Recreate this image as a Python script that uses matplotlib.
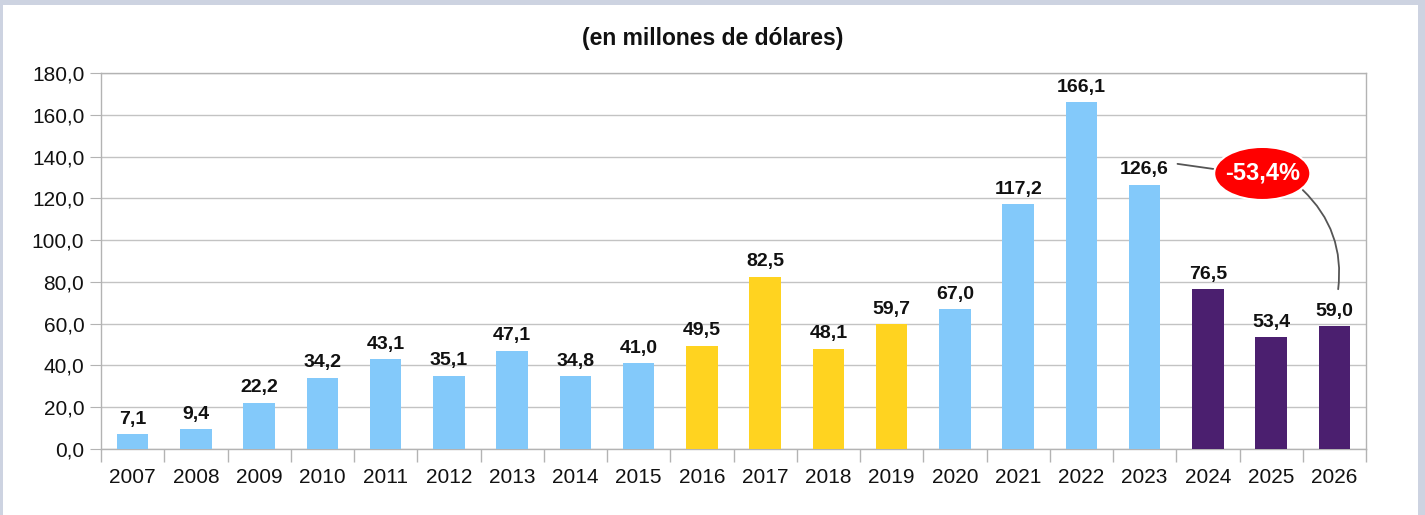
import numpy as np
import matplotlib
matplotlib.use('Agg')
import matplotlib.pyplot as plt
import matplotlib.ticker as mtick
from matplotlib.patches import Rectangle, Ellipse

plt.rcParams['font.family'] = ['Liberation Sans', 'DejaVu Sans']

years = ['2007', '2008', '2009', '2010', '2011', '2012', '2013', '2014', '2015', '2016',
         '2017', '2018', '2019', '2020', '2021', '2022', '2023', '2024', '2025', '2026']
values = [7.1, 9.4, 22.2, 34.2, 43.1, 35.1, 47.1, 34.8, 41.0, 49.5,
          82.5, 48.1, 59.7, 67.0, 117.2, 166.1, 126.6, 76.5, 53.4, 59.0]
groups = ['a'] * 9 + ['b'] * 4 + ['a'] * 4 + ['c'] * 3
group_colors = {'a': '#83C9FA', 'b': '#FFD320', 'c': '#4B1F6F'}
change_label = '-53,4%'

fig = plt.figure(figsize=(14.25, 5.15), dpi=100)
fig.patch.set_facecolor('#CDD3E1')
fig.add_artist(Rectangle((3 / 1425, 0), 1415 / 1425, 510 / 515,
                         transform=fig.transFigure, facecolor='white',
                         edgecolor='none', zorder=-10))

ax = fig.add_axes([101 / 1425, 1 - 449 / 515, 1265 / 1425, 376 / 515])
ax.set_zorder(1)
ax.set_facecolor('white')

x = np.arange(len(years))
colors = [group_colors[g] for g in groups]
ax.bar(x, values, width=0.5, color=colors, zorder=3)

for xi, v in zip(x, values):
    ax.annotate(f'{v:.1f}'.replace('.', ','), (xi, v), xytext=(0, 4.5),
                textcoords='offset points', ha='center', va='bottom',
                fontsize=14, fontweight='bold', color='#111111', zorder=4)

ax.set_xlim(-0.5, len(years) - 0.5)
ax.set_ylim(0, 180)
ax.set_yticks(np.arange(0, 181, 20))
ax.yaxis.set_major_formatter(mtick.FuncFormatter(lambda v, p: f'{v:.1f}'.replace('.', ',')))
ax.set_xticks(x)
ax.set_xticklabels(years)
ax.set_xticks(np.arange(-0.5, len(years), 1), minor=True)
ax.tick_params(axis='x', which='major', length=0, pad=14, labelsize=15, colors='#111111')
ax.tick_params(axis='x', which='minor', length=9, color='#B3B3B3', width=1)
ax.tick_params(axis='y', length=8, color='#B3B3B3', pad=4, labelsize=15, labelcolor='#111111')
ax.grid(axis='y', color='#C3C3C3', linewidth=1, zorder=0)
for side in ['left', 'right', 'top', 'bottom']:
    ax.spines[side].set_color('#B3B3B3')
    ax.spines[side].set_linewidth(1)

fig.text(0.5, 1 - 38 / 515, '(en millones de dólares)', ha='center', va='center',
         fontsize=16.5, fontweight='bold', color='#111111')

# callout for the change 2023 -> 2026
ell_x, ell_y = 17.86, 131.9
ax.add_patch(Ellipse((ell_x, ell_y), 1.52, 25.4, facecolor='#FF0000',
                     edgecolor='white', lw=1.5, zorder=6))
ax.text(ell_x, ell_y, change_label, ha='center', va='center', fontsize=17,
        fontweight='bold', color='white', zorder=7)
ax.annotate('', xy=(16.52, 136.5), xytext=(17.15, 133.8),
            arrowprops=dict(arrowstyle='-', color='#555555', lw=1.3,
                            shrinkA=0, shrinkB=0),
            zorder=5)
ax.annotate('', xy=(19.06, 76.5), xytext=(18.5, 124.0),
            arrowprops=dict(arrowstyle='-', color='#555555', lw=1.3,
                            shrinkA=0, shrinkB=0,
                            connectionstyle='arc3,rad=-0.25'),
            zorder=5)

plt.savefig('out.png', dpi=100, facecolor=fig.get_facecolor())
plt.close()
